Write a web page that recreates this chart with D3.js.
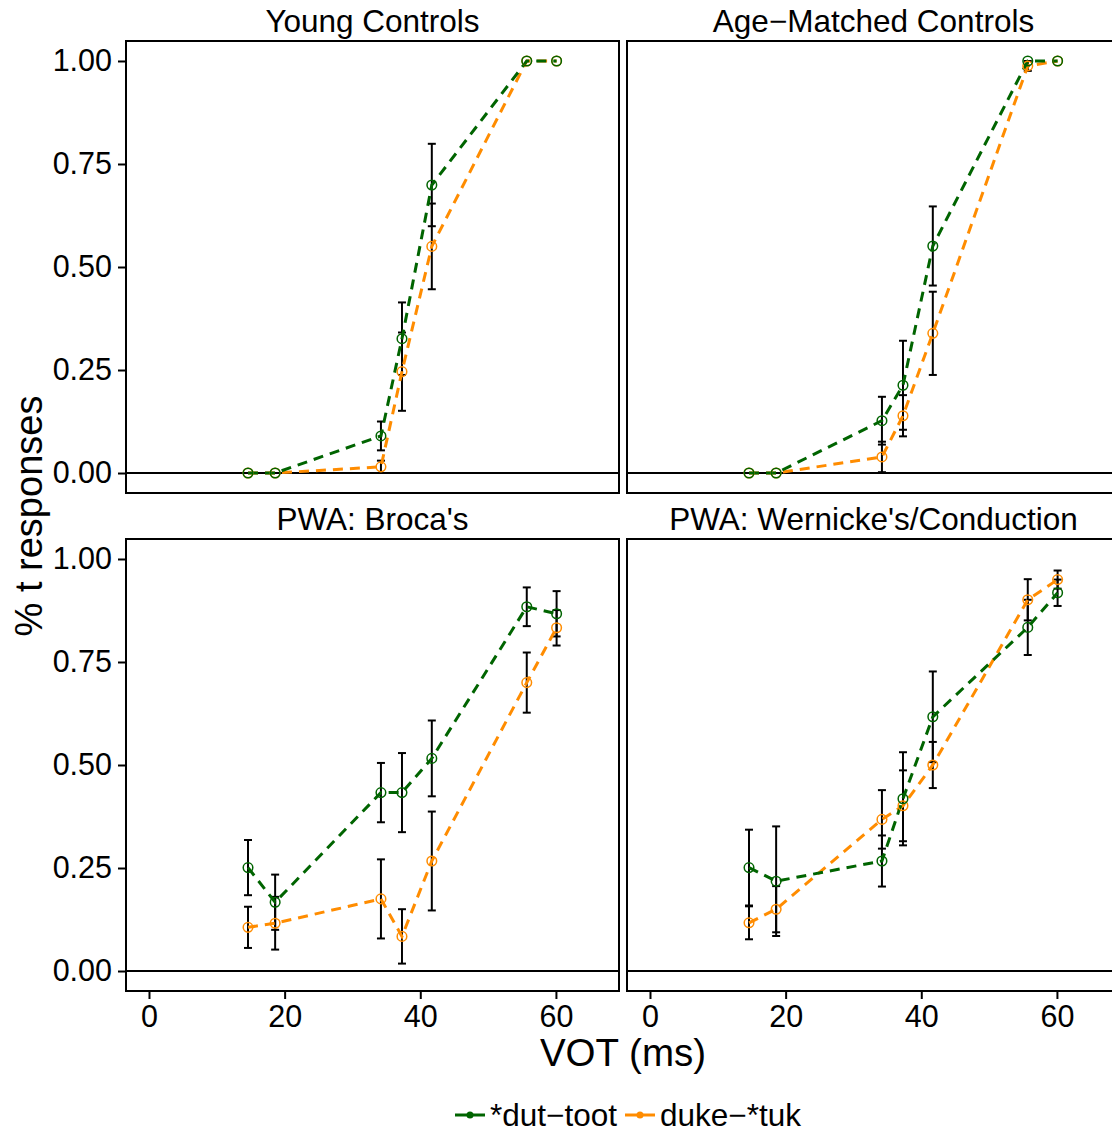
<!DOCTYPE html>
<html>
<head>
<meta charset="utf-8">
<script src="https://cdn.jsdelivr.net/npm/d3@7"></script>
<style>
  body { margin: 0; background: #fff; }
  svg { display: block; font-family: "Liberation Sans", Arial, Helvetica, sans-serif; }
</style>
</head>
<body>
<svg width="1112" height="1132"></svg>
<script>
// VOT steps (ms)
var vot = [14.6, 18.6, 34.2, 37.3, 41.7, 55.7, 60.1];
var groups = ["Young Controls", "Age\u2212Matched Controls", "PWA: Broca's", "PWA: Wernicke's/Conduction"];
var seriesNames = ["*dut\u2212toot", "duke\u2212*tuk"];
var seriesColors = ["#006400", "#ff8c00"];
var xTicks = [0, 20, 40, 60];
var yTicks = [0, 0.25, 0.5, 0.75, 1];

// mean proportion of t responses, one row per group
var dutTootMean = [
  [0, 0, 0.090, 0.326, 0.699, 1.000, 1.000],
  [0, 0, 0.127, 0.213, 0.551, 1.000, 1.000],
  [0.251, 0.167, 0.433, 0.433, 0.516, 0.884, 0.867],
  [0.251, 0.218, 0.267, 0.418, 0.617, 0.834, 0.918]
];
var dutTootSe = [
  [0, 0, 0.035, 0.088, 0.100, 0, 0],
  [0, 0, 0.058, 0.108, 0.096, 0, 0],
  [0.067, 0.067, 0.072, 0.096, 0.092, 0.047, 0.055],
  [0.092, 0.133, 0.062, 0.113, 0.110, 0.067, 0.032]
];
var dukeTukMean = [
  [0, 0, 0.015, 0.246, 0.550, 1.000, 1.000],
  [0, 0, 0.039, 0.139, 0.339, 0.988, 1.000],
  [0.106, 0.116, 0.175, 0.084, 0.267, 0.700, 0.833],
  [0.117, 0.150, 0.368, 0.401, 0.500, 0.901, 0.950]
];
var dukeTukSe = [
  [0, 0, 0.015, 0.095, 0.104, 0, 0],
  [0, 0, 0.037, 0.050, 0.101, 0.012, 0],
  [0.050, 0.064, 0.096, 0.066, 0.120, 0.073, 0.043],
  [0.040, 0.056, 0.071, 0.086, 0.056, 0.050, 0.022]
];

var svg = d3.select("svg");

var panelW = 493, panelH = 452;
var panels = [
  {x: 126, y: 41}, {x: 627, y: 41},
  {x: 126, y: 539}, {x: 627, y: 539}
];

var x = d3.scaleLinear().domain([-3.39, 69.3]).range([0, panelW]);
var y = d3.scaleLinear().domain([-0.0485, 1.0485]).range([panelH, 0]);

var line = d3.line()
    .x(function(d) { return x(d.x); })
    .y(function(d) { return y(d.y); });

groups.forEach(function(name, gi) {
  var p = panels[gi];
  var g = svg.append("g").attr("transform", "translate(" + p.x + "," + p.y + ")");

  var clipId = "clip" + gi;
  g.append("clipPath").attr("id", clipId)
    .append("rect").attr("width", panelW).attr("height", panelH);

  var plot = g.append("g").attr("clip-path", "url(#" + clipId + ")");

  // zero reference line
  plot.append("line")
      .attr("x1", 0).attr("x2", panelW)
      .attr("y1", y(0)).attr("y2", y(0))
      .attr("stroke", "#000").attr("stroke-width", 2);

  var series = [
    {mean: dutTootMean[gi], se: dutTootSe[gi], color: seriesColors[0]},
    {mean: dukeTukMean[gi], se: dukeTukSe[gi], color: seriesColors[1]}
  ];

  // error bars (mean +/- se)
  series.forEach(function(s) {
    var bars = vot.map(function(v, i) { return {x: v, lo: s.mean[i] - s.se[i], hi: s.mean[i] + s.se[i], se: s.se[i]}; })
        .filter(function(d) { return d.se > 0; });
    var eb = plot.append("g").attr("stroke", "#000").attr("stroke-width", 2);
    eb.selectAll(".v").data(bars).enter().append("line")
        .attr("x1", function(d) { return x(d.x); }).attr("x2", function(d) { return x(d.x); })
        .attr("y1", function(d) { return y(d.lo); }).attr("y2", function(d) { return y(d.hi); });
    eb.selectAll(".t").data(bars).enter().append("line")
        .attr("x1", function(d) { return x(d.x) - 4; }).attr("x2", function(d) { return x(d.x) + 4; })
        .attr("y1", function(d) { return y(d.hi); }).attr("y2", function(d) { return y(d.hi); });
    eb.selectAll(".b").data(bars).enter().append("line")
        .attr("x1", function(d) { return x(d.x) - 4; }).attr("x2", function(d) { return x(d.x) + 4; })
        .attr("y1", function(d) { return y(d.lo); }).attr("y2", function(d) { return y(d.lo); });
  });

  // dashed lines, green on top
  [1, 0].forEach(function(si) {
    var s = series[si];
    var pts = vot.map(function(v, i) { return {x: v, y: s.mean[i]}; });
    plot.append("path")
        .attr("d", line(pts))
        .attr("fill", "none")
        .attr("stroke", s.color)
        .attr("stroke-width", 3)
        .attr("stroke-dasharray", "10,7");
  });

  [1, 0].forEach(function(si) {
    var s = series[si];
    plot.selectAll(null).data(vot.map(function(v, i) { return {x: v, y: s.mean[i]}; }))
      .enter().append("circle")
        .attr("cx", function(d) { return x(d.x); })
        .attr("cy", function(d) { return y(d.y); })
        .attr("r", 4.8)
        .attr("fill", "none")
        .attr("stroke", s.color)
        .attr("stroke-width", 1.5);
  });

  // panel border
  g.append("rect")
      .attr("width", panelW).attr("height", panelH)
      .attr("fill", "none").attr("stroke", "#000").attr("stroke-width", 2);

  // strip title
  g.append("text")
      .attr("x", panelW / 2).attr("y", -9)
      .attr("text-anchor", "middle")
      .attr("font-size", 31.5)
      .text(name);

  // y axis on left column
  if (gi % 2 === 0) {
    var ya = g.append("g").call(d3.axisLeft(y).tickValues(yTicks).tickFormat(d3.format(".2f")).tickSize(8).tickPadding(6));
    ya.select(".domain").remove();
    ya.selectAll("line").attr("stroke-width", 2);
    ya.selectAll("text").attr("font-size", 30.5).attr("fill", "#000")
      .attr("font-family", "'Liberation Sans', Arial, sans-serif");
  }
  // x axis on bottom row
  if (gi >= 2) {
    var xa = g.append("g").attr("transform", "translate(0," + panelH + ")")
        .call(d3.axisBottom(x).tickValues(xTicks).tickSize(8).tickPadding(6));
    xa.select(".domain").remove();
    xa.selectAll("line").attr("stroke-width", 2);
    xa.selectAll("text").attr("font-size", 30.5).attr("fill", "#000")
      .attr("font-family", "'Liberation Sans', Arial, sans-serif");
  }
});

// axis titles
svg.append("text")
    .attr("transform", "translate(42,516) rotate(-90)")
    .attr("text-anchor", "middle")
    .attr("font-size", 38)
    .text("% t responses");

svg.append("text")
    .attr("x", 623).attr("y", 1066)
    .attr("text-anchor", "middle")
    .attr("font-size", 38.5)
    .text("VOT (ms)");

// legend
var legend = svg.append("g").attr("transform", "translate(455,1115)");
var lx = [0, 170];
seriesNames.forEach(function(n, i) {
  var lg = legend.append("g").attr("transform", "translate(" + lx[i] + ",0)");
  lg.append("line").attr("x1", 0).attr("x2", 30).attr("y1", 0).attr("y2", 0)
    .attr("stroke", seriesColors[i]).attr("stroke-width", 3);
  lg.append("circle").attr("cx", 15).attr("cy", 0).attr("r", 3.5).attr("fill", seriesColors[i]);
  lg.append("text").attr("x", 35).attr("y", 11).attr("font-size", 31.5).text(n);
});
</script>
</body>
</html>
